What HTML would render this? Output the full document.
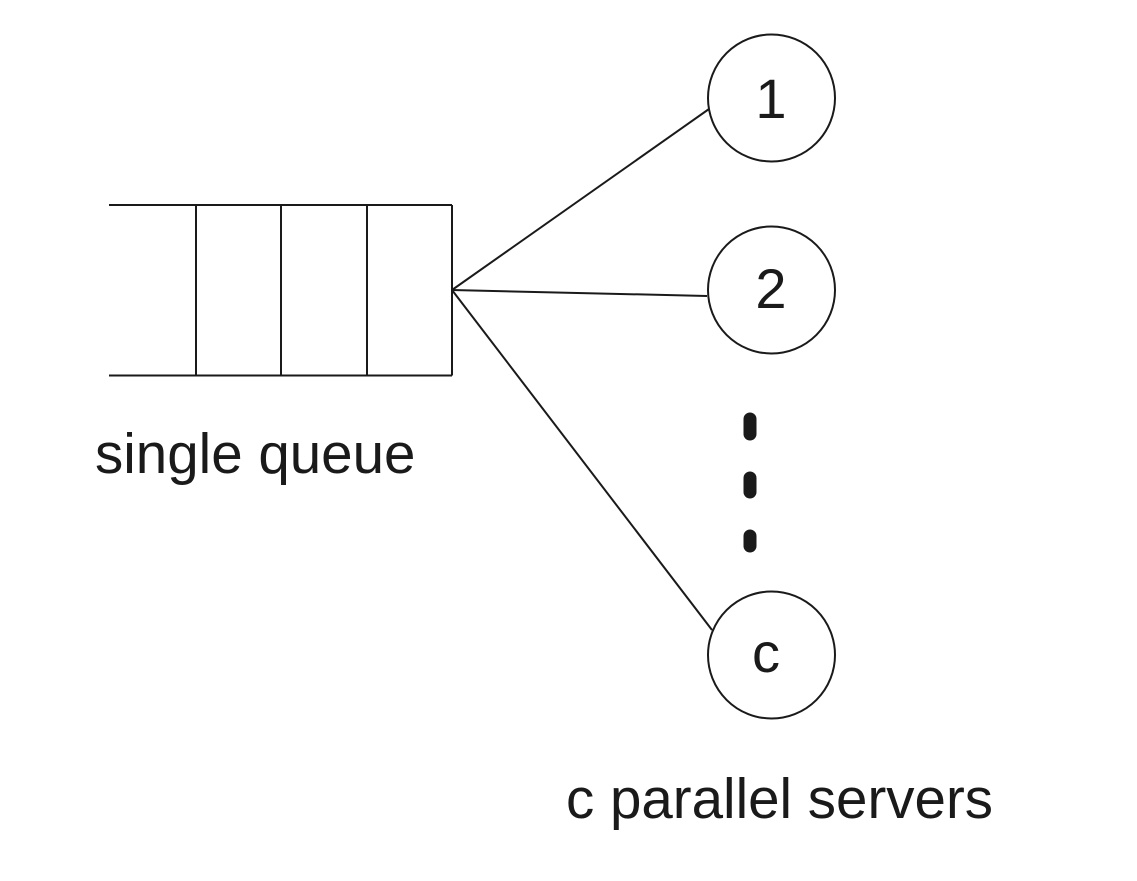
<!DOCTYPE html>
<html><head><style>
html,body{margin:0;padding:0;background:#fff;}
svg{display:block;}
text{font-family:"Liberation Sans",Arial,sans-serif;font-size:56px;fill:#1a1a1a;}
.lbl{font-size:56.5px;}
</style></head><body>
<svg width="1137" height="881" viewBox="0 0 1137 881" xmlns="http://www.w3.org/2000/svg">
<g stroke="#1a1a1a" stroke-width="2" fill="none">
<line x1="109" y1="205" x2="452" y2="205"/>
<line x1="109" y1="375.5" x2="452" y2="375.5"/>
<line x1="196" y1="205" x2="196" y2="375.5"/>
<line x1="281" y1="205" x2="281" y2="375.5"/>
<line x1="367" y1="205" x2="367" y2="375.5"/>
<line x1="452" y1="205" x2="452" y2="375.5"/>
<line x1="452" y1="290" x2="709" y2="109"/>
<line x1="452" y1="290" x2="707" y2="296"/>
<line x1="452" y1="290" x2="712" y2="630"/>
<circle cx="771.5" cy="98" r="63.5"/>
<circle cx="771.5" cy="290" r="63.5"/>
<circle cx="771.5" cy="655" r="63.5"/>
</g>
<g stroke="#1a1a1a" stroke-width="13" stroke-linecap="round">
<line x1="750" y1="419" x2="750" y2="434"/>
<line x1="750" y1="478" x2="750" y2="492"/>
<line x1="750" y1="536" x2="750" y2="546"/>
</g>
<text x="771" y="118" text-anchor="middle">1</text>
<text x="771" y="308" text-anchor="middle">2</text>
<text x="766" y="672" text-anchor="middle">c</text>
<text class="lbl" x="95" y="473">single queue</text>
<text class="lbl" x="566" y="818">c parallel servers</text>
</svg>
</body></html>
